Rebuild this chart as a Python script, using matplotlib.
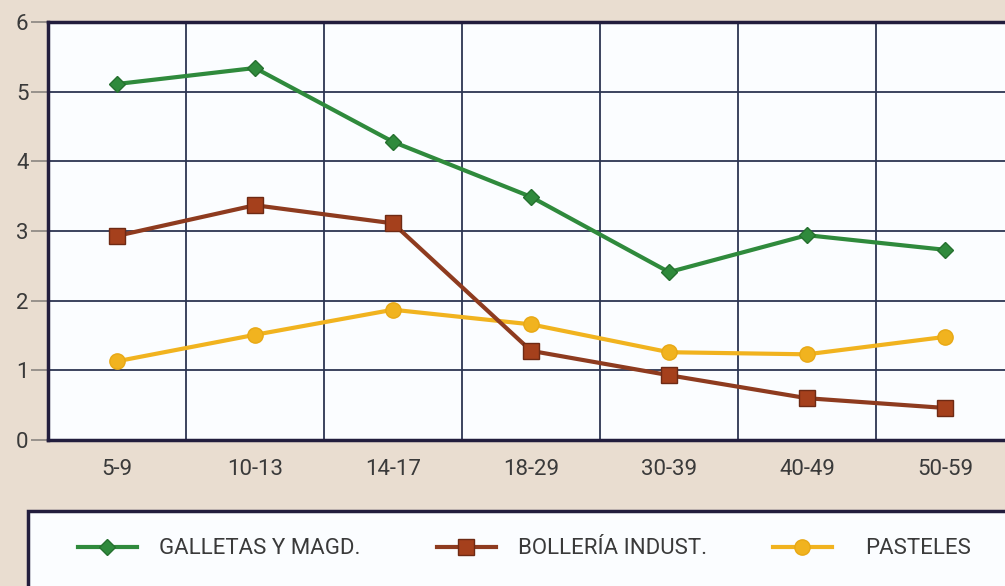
import numpy as np
import matplotlib.pyplot as plt
from matplotlib.patches import Rectangle
from matplotlib.lines import Line2D

plt.rcParams['font.family'] = ['Roboto', 'DejaVu Sans']

# consumption by age group
edades = ['5-9', '10-13', '14-17', '18-29', '30-39', '40-49', '50-59']
galletas = [5.11, 5.34, 4.28, 3.49, 2.41, 2.94, 2.73]
bolleria = [2.93, 3.37, 3.11, 1.28, 0.93, 0.60, 0.46]
pasteles = [1.13, 1.51, 1.87, 1.66, 1.26, 1.23, 1.48]

nombres = ['GALLETAS Y MAGD.', 'BOLLERÍA INDUST.', 'PASTELES']

verde = '#2f8a3c'
marron = '#8e3b1f'
amarillo = '#f1b31f'
fondo = '#e9ddd0'
rejilla = '#2c3552'

estilos = [
    dict(color=verde, lw=3, marker='D', ms=8, mfc=verde, mec='#25702f'),
    dict(color=marron, lw=3, marker='s', ms=11, mfc='#a5401c', mec='#6e2a14'),
    dict(color=amarillo, lw=3, marker='o', ms=11, mfc=amarillo, mec='#e8a815'),
]

fig = plt.figure(figsize=(10.05, 5.86), dpi=100, facecolor=fondo)
ax = fig.add_axes([48/1005, 1-440/586, 966/1005, 418/586])
ax.set_facecolor('#fbfdff')

x = np.arange(len(edades))
for serie, st, z in zip([galletas, bolleria, pasteles], estilos, [5, 4, 3]):
    ax.plot(x, serie, zorder=z, **st)

ax.set_xlim(-0.5, 6.5)
ax.set_ylim(0, 6)
ax.set_yticks(range(7))
ax.set_xticks(x)
ax.set_xticklabels(edades)

# vertical grid at the category boundaries
for b in np.arange(0.5, 6.5, 1):
    ax.axvline(b, color=rejilla, lw=1.3, zorder=1)
for yv in range(1, 6):
    ax.axhline(yv, color=rejilla, lw=1.3, zorder=1)

for s in ['left', 'bottom', 'top']:
    ax.spines[s].set_color('#221d3d')
    ax.spines[s].set_linewidth(2.5)
ax.spines['right'].set_visible(False)

ax.tick_params(axis='y', length=12, width=1.2, color='#8a8580',
               labelsize=16, labelcolor='#3a3a3a', pad=2)
ax.tick_params(axis='x', length=0, labelsize=16, labelcolor='#3a3a3a', pad=14)

# legend box along the bottom
fig.patches.append(Rectangle((28/1005, -0.1), 1.0, 0.1 + 1 - 511/586,
                             transform=fig.transFigure, facecolor='#fbfdff',
                             edgecolor='#221d3d', lw=2.5, zorder=0))

for nombre, st, x0, pad in zip(nombres, estilos, [78, 437, 773], [1.0, 1.0, 1.5]):
    fig.legend([Line2D([], [], **st)], [nombre], loc='center left',
               bbox_to_anchor=(x0/1005, 1-549/586), frameon=False,
               fontsize=16, handlelength=2.65, handletextpad=pad,
               borderpad=0, borderaxespad=0, labelcolor='#3a3a3a')

fig.savefig('out.png', dpi=100, facecolor=fondo)
